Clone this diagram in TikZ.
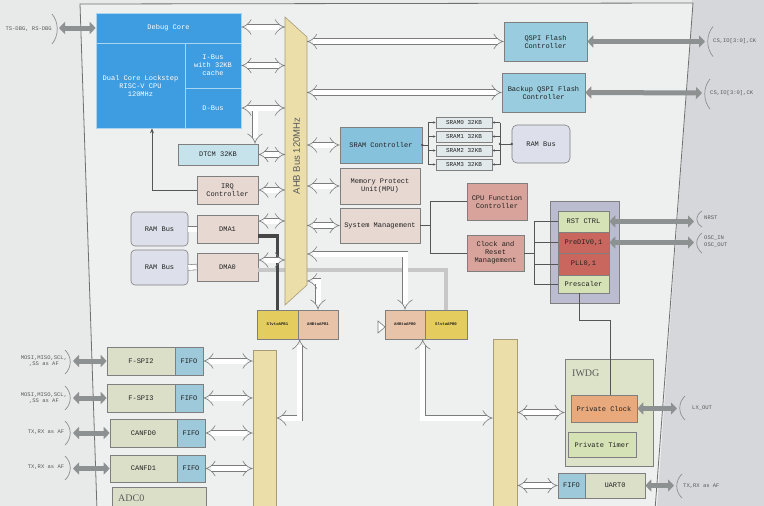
\documentclass[tikz,border=0pt]{standalone}
\usepackage{fontspec}
\setmainfont{Liberation Serif}
\newfontfamily\monof{Liberation Mono}
\newfontfamily\sansf{Liberation Sans}
\usetikzlibrary{arrows.meta,calc}
\definecolor{bgc}{HTML}{E8EAEA}
\definecolor{inc}{HTML}{EEF0F0}
\definecolor{outc}{HTML}{D6D7DA}
\definecolor{chipc}{HTML}{707070}
\definecolor{cpub}{HTML}{3E9CE0}
\definecolor{cpul}{HTML}{A9D5F3}
\definecolor{qsb}{HTML}{98CCDE}
\definecolor{srb}{HTML}{86C2DC}
\definecolor{dtc}{HTML}{C6E3EB}
\definecolor{pnk}{HTML}{E7D8D2}
\definecolor{sal}{HTML}{D8A39A}
\definecolor{grn}{HTML}{D5E2B5}
\definecolor{redb}{HTML}{C9675F}
\definecolor{lav}{HTML}{BBBCD0}
\definecolor{ramc}{HTML}{DDE0EA}
\definecolor{srm}{HTML}{E2E9EB}
\definecolor{busc}{HTML}{EBDEA8}
\definecolor{busd}{HTML}{A89C78}
\definecolor{yel}{HTML}{E4CD5E}
\definecolor{pch}{HTML}{E8C3A7}
\definecolor{perc}{HTML}{DCDFC8}
\definecolor{fifc}{HTML}{9DC9DA}
\definecolor{iwd}{HTML}{DDE3C9}
\definecolor{orn}{HTML}{E8A97D}
\definecolor{brd}{HTML}{7F7F80}
\definecolor{txt}{HTML}{222222}
\definecolor{extc}{HTML}{5A5A5A}
\definecolor{garc}{HTML}{8E9191}
\definecolor{holc}{HTML}{7C7C7C}
\definecolor{lnc}{HTML}{555555}
\newcommand\brR[3]{\draw[brk] (#1+5,#2-#3) .. controls (#1-2,#2-#3*0.45) and (#1-2,#2+#3*0.45) .. (#1+5,#2+#3);}
\newcommand\brL[3]{\draw[brk] (#1-5,#2-#3) .. controls (#1+2,#2-#3*0.45) and (#1+2,#2+#3*0.45) .. (#1-5,#2+#3);}
\begin{document}
\begin{tikzpicture}[x=1pt,y=-1pt, font=\monof\fontsize{7}{8}\selectfont,
 box/.style={draw=brd, line width=0.6pt, align=center, inner sep=1pt, text=txt},
 cpubox/.style={draw=cpul, line width=0.6pt, fill=cpub, text=white, align=center, inner sep=1pt},
 bx/.style 2 args={minimum width=#1pt, minimum height=#2pt},
 holbase/.style={draw=holc, line width=0.6pt, double=white, double distance=5pt},
 hol/.style={holbase, {Implies[scale=1.25]}-{Implies[scale=1.25]}},
 holend/.style={holbase, -{Implies[scale=1.25]}},
 gar/.style={draw=garc, line width=5pt, {Triangle[width=12pt,length=6pt]}-{Triangle[width=12pt,length=6pt]}},
 brk/.style={draw=garc, line width=0.7pt},
 ext/.style={font=\monof\fontsize{5.5}{6.5}\selectfont, text=extc, align=center, inner sep=0pt},
 brg/.style={box, font=\monof\bfseries\fontsize{4}{5}\selectfont},
 ln/.style={draw=lnc, line width=0.7pt},
 big/.style={font=\rmfamily\fontsize{10}{12}\selectfont, text=extc, inner sep=0pt}]
\useasboundingbox (0,0) rectangle (764,506);
\clip (0,0) rectangle (764,506);
% backgrounds
\fill[bgc] (0,0) rectangle (764,506);
\fill[outc] (692,0) -- (764,0) -- (764,506) -- (656,506) -- cycle;
\fill[inc] (80,4) -- (693,3) -- (657,506) -- (97,506) -- cycle;
\draw[chipc, line width=0.8pt] (97,510) -- (80,4) -- (693,3) -- (655,510);

% CPU complex
\node[cpubox, bx={145}{30}] (dbg) at (168.5,28) {Debug Core};
\node[cpubox, bx={89}{85}] (cpu) at (140.5,85.5) {Dual Core Lockstep\\RISC-V CPU\\120MHz};
\node[cpubox, bx={56}{45}] (ibus) at (213,65.5) {I-Bus\\with 32KB\\cache};
\node[cpubox, bx={56}{40}] (dbus) at (213,108) {D-Bus};

% left of AHB
\node[box, fill=dtc, bx={80}{21}] (dtcm) at (218,154.5) {DTCM 32KB};
\node[box, fill=pnk, bx={61}{28}] (irq) at (227.5,190) {IRQ\\Controller};
\node[box, fill=pnk, bx={61}{28}] (dma1) at (227.5,229) {DMA1};
\node[box, fill=pnk, bx={61}{28}] (dma0) at (227.5,267) {DMA0};
\node[box, fill=ramc, rounded corners=4pt, bx={57}{34}] (ram1) at (159.5,229) {RAM Bus};
\node[box, fill=ramc, rounded corners=4pt, bx={57}{35}] (ram0) at (159.5,267.5) {RAM Bus};

% right of AHB
\node[box, fill=qsb, bx={83}{39}] (qspi) at (545.5,41.5) {QSPI Flash\\Controller};
\node[box, fill=qsb, bx={83}{39}] (bqspi) at (543.5,92.5) {Backup QSPI Flash\\Controller};
\node[box, fill=srb, bx={82}{36}] (sramc) at (381,145) {SRAM Controller};
\foreach \i/\y in {0/122.5,1/136.5,2/150.5,3/164.5}
  \node[box, fill=srm, bx={56}{11}, font=\monof\fontsize{6}{7}\selectfont] (sram\i) at (464,\y) {SRAM\i{} 32KB};
\node[box, fill=ramc, rounded corners=5pt, bx={58}{38}] (rambus) at (541,144) {RAM Bus};
\node[box, fill=pnk, bx={80}{36}] (mpu) at (380,186) {Memory Protect\\Unit(MPU)};
\node[box, fill=pnk, bx={80}{35}] (sysm) at (380,225.5) {System Management};
\node[box, fill=sal, bx={60}{37}] (cpuf) at (497,201.5) {CPU Function\\Controller};
\node[box, fill=sal, bx={57}{36}] (clk) at (495.5,253) {Clock and\\Reset\\Management};

% clock group
\node[box, fill=lav, bx={69}{102}] (clkgrp) at (584.5,252) {};
\node[box, fill=grn, bx={51}{21}] (rst) at (583.5,221.5) {RST CTRL};
\node[box, fill=redb, bx={51}{21}] (prediv) at (583.5,242.5) {PreDIV0,1};
\node[box, fill=redb, bx={51}{22}] (pll) at (583.5,264) {PLL0,1};
\node[box, fill=grn, bx={51}{18}] (presc) at (583.5,284) {Prescaler};

% bridges
\node[brg, fill=yel, bx={41}{29}] (slv1) at (277.5,324.5) {SlvtoAPB1};
\node[brg, fill=pch, bx={40}{29}] (a2p1) at (318,324.5) {AHBtoAPB1};
\node[brg, fill=pch, bx={40}{29}] (a2p0) at (405,324.5) {AHBtoAPB0};
\node[brg, fill=yel, bx={42}{29}] (slv0) at (446,324.5) {SlvtoAPB0};

% APB buses
\node[box, draw=busd, fill=busc, bx={23}{160}] (lbus) at (264.5,430) {};
\node[box, draw=busd, fill=busc, bx={24}{171}] (rbus) at (505,424.5) {};

% peripherals left
\node[box, fill=perc, bx={68}{28}] (fspi2) at (141,361) {F-SPI2};
\node[box, fill=fifc, bx={28}{28}] (f2fifo) at (189,361) {FIFO};
\node[box, fill=perc, bx={68}{28}] (fspi3) at (141,398) {F-SPI3};
\node[box, fill=fifc, bx={28}{28}] (f3fifo) at (189,398) {FIFO};
\node[box, fill=perc, bx={67}{28}] (can0) at (143.5,433) {CANFD0};
\node[box, fill=fifc, bx={28}{28}] (c0fifo) at (191,433) {FIFO};
\node[box, fill=perc, bx={67}{27}] (can1) at (143.5,468.5) {CANFD1};
\node[box, fill=fifc, bx={28}{27}] (c1fifo) at (191,468.5) {FIFO};
\node[box, fill=perc, bx={94}{33}] (adc0) at (159,503.5) {};
\node[big, anchor=west] (adctxt) at (118,498) {ADC0};

% IWDG and UART
\node[box, fill=iwd, bx={88}{107}] (iwdg) at (609,412.5) {};
\node[big, anchor=west] (iwdgtxt) at (572,373) {IWDG};
\node[box, fill=orn, bx={66}{27}] (privclk) at (604,408.5) {Private Clock};
\node[box, fill=grn, bx={68}{25}] (privtmr) at (602,444.5) {Private Timer};
\node[box, fill=fifc, bx={27}{25}] (ufifo) at (571.5,485.5) {FIFO};
\node[box, fill=perc, bx={60}{25}] (uart0) at (615,485.5) {UART0};

% DMA0 light path (under the bus)
\draw[draw=black!22, line width=4.5pt] ([yshift=-3pt]dma0.east) -| (slv0.north);

% AHB bus
\coordinate (busL) at (285,0);
\coordinate (busR) at (307,0);
\draw[draw=busd, fill=busc, line width=0.6pt] (285,17) -- (307,37) -- (307,285) -- (285,305) -- cycle;
\node[rotate=90, font=\sansf\fontsize{9.5}{10}\selectfont, text=extc] (ahbtxt) at (296.5,156) {AHB Bus 120MHz};

% DMA1 dark path
\draw[draw=black!72, line width=3.5pt] ([yshift=-7pt]dma1.east) -| (slv1.north);

% hollow arrows, left of AHB
\draw[hol] (dbg.east |- 0,27) -- (busL |- 0,27);
\draw[hol] (ibus.east) -- (ibus.east -| busL);
\draw[hol] (dbus.east) -- (dbus.east -| busL);
\draw[holend] (255,110.5) -- (dtcm.north -| 255,0);
\draw[hol] (dtcm.east) -- (dtcm.east -| busL);
\draw[hol] (irq.east) -- (irq.east -| busL);
\draw[hol] (dma1.east |- 0,221) -- (busL |- 0,221);
\draw[hol] (dma0.east |- 0,260) -- (busL |- 0,260);
\draw[holbase] (ram1.east) -- (dma1.west);
\draw[holbase] (ram0.east) -- (dma0.west);

% hollow arrows, right of AHB
\draw[hol] (busR |- qspi.west) -- (qspi.west);
\draw[hol] (busR |- bqspi.west) -- (bqspi.west);
\draw[hol] (busR |- sramc.west) -- (sramc.west);
\draw[hol] (busR |- mpu.west) -- (mpu.west);
\draw[hol] (busR |- sysm.west) -- (sysm.west);
\draw[hol] (busR |- 0,254) -- (a2p0.north |- 0,254) -- (a2p0.north);
\draw[hol] (busR |- 0,281) -- (a2p1.north |- 0,281) -- (a2p1.north);
\draw[hol] ([xshift=2pt]a2p1.south west) |- (lbus.east |- 0,418);
\draw[hol] ([xshift=-2pt]slv0.south west) |- (rbus.west |- 0,418);
\draw[draw=holc, fill=white, line width=0.6pt] (378,321) -- (385,327) -- (378,333) -- cycle;

% peripheral hollow arrows
\draw[hol] (f2fifo.east) -- (f2fifo.east -| lbus.west);
\draw[hol] (f3fifo.east) -- (f3fifo.east -| lbus.west);
\draw[hol] (c0fifo.east) -- (c0fifo.east -| lbus.west);
\draw[hol] (c1fifo.east) -- (c1fifo.east -| lbus.west);
\draw[hol] (rbus.east |- iwdg.west) -- (iwdg.west);
\draw[hol] (rbus.east |- ufifo.west) -- (ufifo.west);

% thin connectors
\draw[ln, -{Stealth[length=5pt,width=4pt]}] (irq.west) -| (cpu.south -| 152,0);
\draw[ln] (sysm.east) -- (sysm.east -| 430,0);
\draw[ln] (cpuf.west) -| (clk.west -| 430,0) -- (clk.west);
\draw[ln] (clk.east) -- (clk.east -| 534,0);
\draw[ln] (rst.west) -| (presc.west -| 534,0) -- (presc.west);
\draw[ln] (prediv.west) -- (prediv.west -| 534,0);
\draw[ln] (pll.west) -- (pll.west -| 534,0);
\draw[ln] ([xshift=-4.5pt]presc.south) -- (579,320) -| ([xshift=6pt]privclk.north);
% SRAM bank wiring
\fill[lnc] (sramc.east) circle (1.4pt);
\draw[ln] (sramc.east) -- (sramc.east -| 428,0);
\draw[ln] (sram0.west -| 428,0) -- (sram3.west -| 428,0);
\draw[ln] (sram0.east -| 500,0) -- (sram3.east -| 500,0);
\foreach \i in {0,1,2,3}{
  \draw[ln, -{Stealth[length=2.5pt,width=2.5pt]}] (sram\i.west -| 428,0) -- (sram\i.west);
  \draw[ln, {Stealth[length=2.5pt,width=2.5pt]}-] (sram\i.east) -- (sram\i.east -| 500,0);
}
\draw[ln] (rambus.west -| 500,0) -- (rambus.west);
\fill[lnc] (rambus.west -| 500,0) circle (1.3pt);
\fill[lnc] (rambus.west) circle (1.3pt);

% external gray arrows, brackets and labels
\coordinate (xdbg) at (59,28);
\draw[gar] (xdbg) -- (dbg.west);
\brL{57}{29}{15}
\node[ext, anchor=east] (ldbg) at (52,29) {TS-DBG, RS-DBG};

\coordinate (xq1) at (705,41.5);
\draw[gar] (qspi.east) -- (xq1);
\brR{708}{41.5}{15}
\node[ext, anchor=west] (lq1) at (713,41.5) {CS,IO[3:0],CK};

\coordinate (xq2) at (702,93);
\draw[gar] (bqspi.east) -- (xq2);
\brR{705}{94}{15}
\node[ext, anchor=west] (lq2) at (710,93) {CS,IO[3:0],CK};

\coordinate (xrst) at (694,221.5);
\draw[gar] (rst.east) -- (xrst);
\brR{697}{219}{8}
\node[ext, anchor=west] (lrst) at (704,218) {NRST};

\coordinate (xosc) at (694,242.5);
\draw[gar] (prediv.east) -- (xosc);
\brR{697}{243}{10}
\node[ext, anchor=west, align=left] (losc) at (704,241.5) {OSC\_IN\\OSC\_OUT};

\coordinate (xlx) at (677,408.5);
\draw[gar] (privclk.east) -- (xlx);
\brR{680}{408}{12}
\node[ext, anchor=west] (llx) at (692,408) {LX\_OUT};

\coordinate (xut) at (674,485.5);
\draw[gar] (uart0.east) -- (xut);
\brR{677}{486}{12}
\node[ext, anchor=west] (lut) at (683,486) {TX,RX as AF};

\coordinate (xf2) at (73,361);
\draw[gar] (xf2) -- (fspi2.west);
\brL{70}{362}{12}
\node[ext] (lf2) at (44,361) {MOSI,MISO,SCL,\\,SS as AF};

\coordinate (xf3) at (73,398);
\draw[gar] (xf3) -- (fspi3.west);
\brL{70}{398}{12}
\node[ext] (lf3) at (44,398) {MOSI,MISO,SCL,\\,SS as AF};

\coordinate (xc0) at (73,433);
\draw[gar] (xc0) -- (can0.west);
\brL{70}{433}{12}
\node[ext] (lc0) at (46,432) {TX,RX as AF};

\coordinate (xc1) at (73,468.5);
\draw[gar] (xc1) -- (can1.west);
\brL{70}{468}{12}
\node[ext] (lc1) at (46,467) {TX,RX as AF};
\end{tikzpicture}
\end{document}
